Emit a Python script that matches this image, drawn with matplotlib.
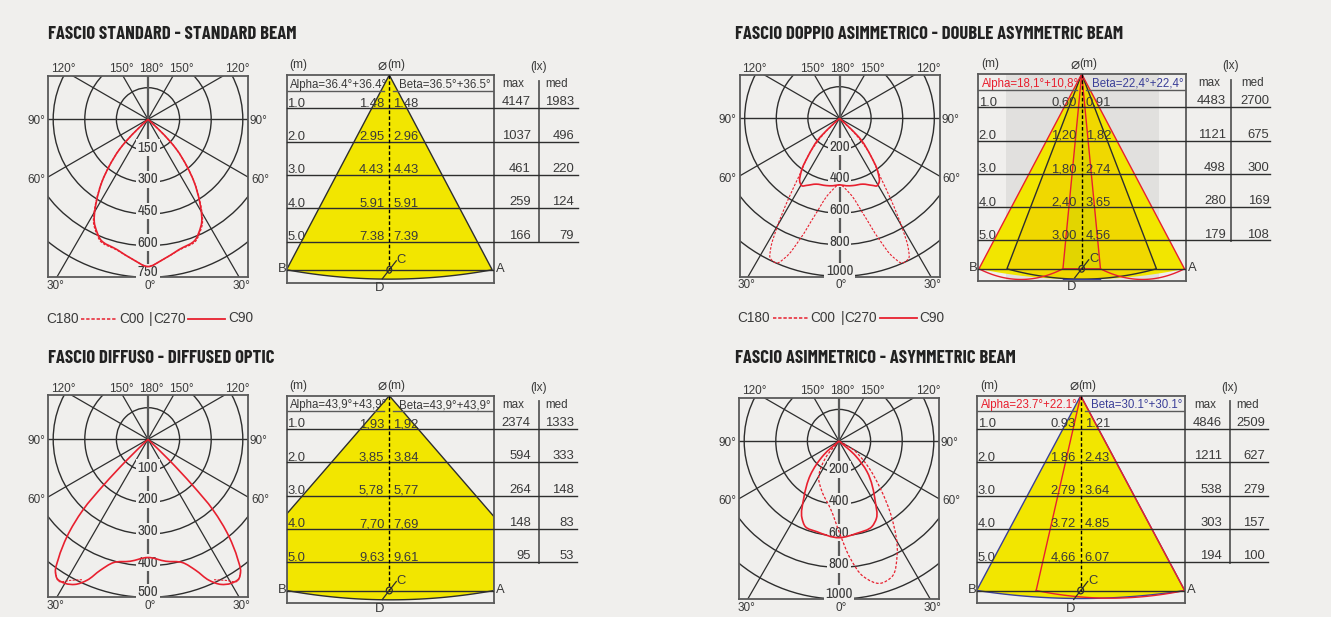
import numpy as np
import matplotlib
matplotlib.use('Agg')
import matplotlib.pyplot as plt
from matplotlib.lines import Line2D
from matplotlib.patches import Circle, PathPatch, Polygon
from matplotlib.path import Path
from matplotlib.transforms import blended_transform_factory

W, H = 1331, 617
BG = '#F0EFED'
TXT = '#3A3A3A'
DARK = '#2E2E2E'
GRAY = '#5A5A5A'
RED = '#E8202F'
BLUE = '#3B3F98'
YELLOW = '#F2E600'
BODY = ['Liberation Sans', 'DejaVu Sans']
NARROW = ['Archivo Narrow', 'Roboto Condensed', 'Liberation Sans', 'DejaVu Sans']
HEAD = ['Barlow Condensed', 'Roboto Condensed', 'Liberation Sans', 'DejaVu Sans']

plt.rcParams['font.family'] = BODY

titles = ['FASCIO STANDARD - STANDARD BEAM', 'FASCIO DOPPIO ASIMMETRICO - DOUBLE ASYMMETRIC BEAM',
          'FASCIO DIFFUSO - DIFFUSED OPTIC', 'FASCIO ASIMMETRICO - ASYMMETRIC BEAM']
depths = [1.0, 2.0, 3.0, 4.0, 5.0]
depth_labels = ['1.0', '2.0', '3.0', '4.0', '5.0']

# polar curves, half curves are mirrored: angle from nadir (deg), intensity (cd)
std_solid_a = [0, 5.8, 13.3, 21.8, 24.1, 27.7, 29.3, 32.1, 36.4, 39.5, 43.5, 45, 46.5]
std_solid_v = [699, 671, 636, 612, 590, 549, 520, 461, 368, 292, 196, 145, 67]
std_dash_a = [0, 5.8, 13.3, 21.8, 24.1, 27.7, 29.3, 32.1, 36.4, 39.5, 43.5, 45, 46.5]
std_dash_v = [699, 671, 638, 618, 596, 556, 527, 466, 370, 292, 196, 145, 67]

dbl_solid_a = [0, 5.6, 11.2, 19.5, 26.3, 29.1, 31.2, 35.7, 39.6, 45, 47]
dbl_solid_v = [421, 429, 434, 442, 474, 489, 480, 415, 314, 194, 97]
dbl_dash_a = [0, 7.6, 13.8, 18.2, 21.4, 23.4, 26.4, 27.7, 29.6, 32.3, 35.2, 40.6, 45]
dbl_dash_v = [421, 478, 618, 809, 950, 998, 987, 939, 811, 610, 438, 291, 149]

dif_solid_a = [0, 8.3, 15.6, 20, 23.4, 26.7, 29.9, 33.2, 34.9, 36.9, 39.8, 42.6, 44.1, 45.5]
dif_solid_v = [374, 390, 405, 441, 486, 514, 526, 526, 512, 472, 400, 305, 202, 93]
dif_dash_a = [25.2, 28.9, 32.3, 34.9]
dif_dash_v = [491, 510, 531, 512]

asy_solid_a = [-47.6, -40.1, -31.6, -25.6, -21.5, -13.6, 0, 11, 21.1, 25.8, 30.9, 42.4, 48]
asy_solid_v = [131, 281, 426, 542, 582, 591, 612, 595, 580, 544, 447, 263, 144]
asy_dash_a = [-38.3, -28.6, -18.5, -7.3, 0.8, 5.5, 10.3, 16.2, 21.3, 27, 34.4, 41.1, 49.4, 58.5]
asy_dash_v = [140, 269, 338, 430, 595, 746, 873, 938, 922, 810, 593, 397, 232, 109]

# table values
std_left = ['1.48', '2.95', '4.43', '5.91', '7.38']
std_right = ['1.48', '2.96', '4.43', '5.91', '7.39']
std_max = [4147, 1037, 461, 259, 166]
std_med = [1983, 496, 220, 124, 79]

dbl_left = ['0,60', '1,20', '1,80', '2,40', '3,00']
dbl_right = ['0,91', '1,82', '2,74', '3,65', '4,56']
dbl_max = [4483, 1121, 498, 280, 179]
dbl_med = [2700, 675, 300, 169, 108]

dif_left = ['1,93', '3,85', '5,78', '7,70', '9,63']
dif_right = ['1,92', '3,84', '5,77', '7,69', '9,61']
dif_max = [2374, 594, 264, 148, 95]
dif_med = [1333, 333, 148, 83, 53]

asy_left = ['0.93', '1.86', '2.79', '3.72', '4,66']
asy_right = ['1.21', '2.43', '3.64', '4.85', '6.07']
asy_max = [4846, 1211, 538, 303, 194]
asy_med = [2509, 627, 279, 157, 100]

fig = plt.figure(figsize=(W / 100, H / 100), dpi=100, facecolor=BG)


def box_axes(left, top, right, bottom, zorder=1):
    ax = fig.add_axes([left / W, 1 - bottom / H, (right - left) / W, (bottom - top) / H], zorder=zorder)
    ax.set_xticks([])
    ax.set_yticks([])
    ax.patch.set_alpha(0)
    for s in ax.spines.values():
        s.set_color(GRAY)
        s.set_linewidth(1.3)
    return ax


def label(x, y, s, size=8.5, ha='center', va='center', color=TXT, **kw):
    fig.text(x / W, 1 - y / H, s, fontsize=size, ha=ha, va=va, color=color, **kw)


def mirror(angles, values):
    a = np.array(angles, float)
    v = np.array(values, float)
    return np.r_[0, -a[::-1], a[1:], 0], np.r_[0, v[::-1], v[1:], 0]


def smooth(xs, ys):
    # chord length catmull-rom through the read points, as bezier segments
    pts = np.column_stack([xs, ys])
    gaps = np.maximum(np.hypot(*np.diff(pts, axis=0).T), 1e-6)
    verts = [pts[0]]
    codes = [Path.MOVETO]
    n = len(pts)
    tang = np.zeros_like(pts)
    for i in range(1, n - 1):
        d0, d1 = gaps[i - 1], gaps[i]
        tang[i] = ((pts[i] - pts[i - 1]) / d0 * d1 + (pts[i + 1] - pts[i]) / d1 * d0) / (d0 + d1)
    tang[0] = (pts[1] - pts[0]) / gaps[0]
    tang[-1] = (pts[-1] - pts[-2]) / gaps[-1]
    for i in range(n - 1):
        verts += [pts[i] + tang[i] * gaps[i] / 3, pts[i + 1] - tang[i + 1] * gaps[i] / 3, pts[i + 1]]
        codes += [Path.CURVE4] * 3
    return Path(verts, codes)


def polar_curve(ax, angles, values, **kw):
    t = np.radians(angles)
    v = np.array(values, float)
    ax.add_patch(PathPatch(smooth(v * np.sin(t), -v * np.cos(t)), fill=False, edgecolor=RED, zorder=5, **kw))


def polar_panel(left, top, cy, step, curves):
    right, bottom = left + 200, top + 201.5
    ring = 31.6
    ax = box_axes(left, top, right, bottom)
    ax.set_xlim(-100 / ring * step, 100 / ring * step)
    ax.set_ylim(-(bottom - cy) / ring * step, (cy - top) / ring * step)
    for n in range(1, 6):
        ax.add_patch(Circle((0, 0), n * step, fill=False, edgecolor=DARK, linewidth=1.0, zorder=2))
    far = 8 * step
    for a in [30, 60, 120, 150, 210, 240, 300, 330]:
        r = np.radians(a)
        ax.plot([0, far * np.sin(r)], [0, -far * np.cos(r)], color=DARK, lw=0.9, zorder=2)
    ax.axvline(0, color=GRAY, lw=1.6, zorder=2)
    ax.axhline(0, color=DARK, lw=1.0, zorder=2)
    for n in range(1, 6):
        off = 0.17 if n == 5 else 0.1
        ax.text(0, -(n - off) * step, str(n * step), ha='center', va='center', fontsize=10.8, color=TXT,
                family=NARROW, zorder=3, bbox=dict(facecolor=BG, edgecolor='none', pad=1.0))
    for c in curves:
        polar_curve(ax, *c[:2], **c[2])
    for x, s in [(15, '120°'), (73, '150°'), (103, '180°'), (133, '150°'), (189, '120°')]:
        label(left + x, top - 6.5, s)
    label(left - 3, cy + 1.5, '90°', ha='right')
    label(right + 2, cy + 1.5, '90°', ha='left')
    label(left - 3, cy + 60.5, '60°', ha='right')
    label(right + 3, cy + 60.5, '60°', ha='left')
    label(left + 7, bottom + 9, '30°')
    label(left + 102, bottom + 9, '0°')
    label(left + 193, bottom + 9, '30°')
    return ax


def legend(left, y):
    size = 9.8
    label(left - 2, y, 'C180', size, ha='left')
    fig.add_artist(Line2D([(left + 33) / W, (left + 69) / W], [1 - y / H] * 2, color=RED, lw=1.1, ls=(0, (2.2, 1.2))))
    label(left + 71, y, 'C00', size, ha='left')
    label(left + 101, y, '|', size, ha='left')
    label(left + 105, y, 'C270', size, ha='left')
    fig.add_artist(Line2D([(left + 140) / W, (left + 177) / W], [1 - y / H] * 2, color=RED, lw=1.3))
    label(left + 180, y - 0.5, 'C90', size, ha='left')


def bow(x0, x1, base, sag):
    t = np.linspace(x0, x1, 40)
    mid, half = (x0 + x1) / 2, (x1 - x0) / 2
    return t, base + sag * (1 - ((t - mid) / half) ** 2)


def beam(ax, half_l, half_r, base, sag, xlim, **kw):
    # cone from the apex down to base, bottom edge bowed, cut at the box sides
    xl, xr = xlim
    hl, hr = min(half_l, -xl), min(half_r, xr)
    t, arc = bow(-hl, hr, base, sag)
    xs = [0]
    ys = [0]
    if half_l > -xl:
        xs.append(xl)
        ys.append(base * (-xl) / half_l)
    xs += list(t)
    ys += list(arc)
    if half_r > xr:
        xs.append(xr)
        ys.append(base * xr / half_r)
    ax.add_patch(Polygon(np.column_stack([xs, ys]), closed=True, **kw))


def cone_panel(left, top, apex, k, tab, title_alpha, title_beta, lefts, rights, maxs, meds, a_col=TXT, b_col=TXT):
    right, bottom = left + 207.5, top + 207.5
    sy = 33.3
    ax = box_axes(left, top, right, bottom, zorder=3)
    xlim = (-(apex - left) / k, (right - apex) / k)
    ax.set_xlim(*xlim)
    ax.set_ylim((bottom - top) / sy, 0)
    tr = blended_transform_factory(fig.transFigure, ax.transData)
    max_x, div_x, med_x, end_x = tab
    for d, lab, a, b, m1, m2 in zip(depths, depth_labels, lefts, rights, maxs, meds):
        ax.plot([left / W, end_x / W], [d, d], color=DARK, lw=1.0, transform=tr, clip_on=False, zorder=4)
        ax.text((left + 0.5) / W, d - 0.05, lab, transform=tr, fontsize=9.4, va='baseline', color=TXT, zorder=6)
        ax.text((apex - 5) / W, d - 0.05, a, transform=tr, fontsize=9.4, va='baseline', ha='right', color=TXT, zorder=6)
        ax.text((apex + 4) / W, d - 0.05, b, transform=tr, fontsize=9.4, va='baseline', ha='left', color=TXT, zorder=6)
        ax.text(max_x / W, d - 0.09, str(m1), transform=tr, fontsize=9.4, va='baseline', ha='right', color=TXT, zorder=6)
        ax.text(med_x / W, d - 0.09, str(m2), transform=tr, fontsize=9.4, va='baseline', ha='right', color=TXT, zorder=6)
    ax.plot([div_x / W] * 2, [0.17, 5.03], color=GRAY, lw=1.3, transform=tr, clip_on=False)
    head = 0.47
    ax.plot([xlim[0], -5 / k], [head, head], color=GRAY, lw=1.0, zorder=4)
    ax.plot([4 / k, xlim[1]], [head, head], color=GRAY, lw=1.0, zorder=4)
    ax.plot([0, 0], [0, 5.85], color='black', lw=1.0, ls=(0, (2.6, 1.6)), zorder=5)
    # circle with slash at the foot of the axis, C and D leaders
    ax.plot([-7 / k, 7 / k], [5.85 + 9 / sy, 5.85 - 9 / sy], color=DARK, lw=0.9, zorder=5)
    ax.add_patch(Circle((0, 5.85), 0.1, fill=False, edgecolor=DARK, lw=0.9, zorder=5))
    base_y = top + 5.85 * sy
    label(left - 5, base_y - 1, 'B', 9.4, ha='center')
    label(right + 6, base_y - 1, 'A', 9.4, ha='center')
    label(apex + 12, base_y - 10, 'C', 9.4)
    label(apex - 10, base_y + 18, 'D', 9.4)
    label(left + 12, top - 10, '(m)', 8.6)
    label(apex - 7, top - 9.5, '⌀', 11)
    label(apex + 7, top - 10, '(m)', 8.6)
    label(div_x, top - 8, '(lx)', 8.6)
    label(max_x - 17, top + 9, 'max', 8.4)
    label(med_x - 17, top + 9, 'med', 8.4)
    label(left + 3.5, top + 9.7, title_alpha, 8.3, ha='left', color=a_col, zorder=10)
    label(apex + 10, top + 9.7, title_beta, 8.3, ha='left', color=b_col, zorder=10)
    return ax, xlim


for (x, y), t in zip([(48, 34), (735, 34), (48, 358), (735, 358)], titles):
    label(x, y + 0.5, t, 13.45, ha='left', va='center', color='#222222', family=HEAD, fontweight='bold')

# standard beam
polar_panel(48, 75.7, 119.3, 150, [
    (*mirror(std_dash_a, std_dash_v), dict(linewidth=0.9, linestyle=(0, (2, 1.2)))),
    (*mirror(std_solid_a, std_solid_v), dict(linewidth=1.2))])
legend(48, 319)
ax, xlim = cone_panel(286.7, 75, 389.3, 23.8, (530.7, 539, 574, 578), 'Alpha=36.4°+36.4°', 'Beta=36.5°+36.5°',
                      std_left, std_right, std_max, std_med)
h = 5.85 / 5
beam(ax, float(std_left[-1]) / 2 * h, float(std_right[-1]) / 2 * h, 5.85, 0.28, xlim,
     facecolor=YELLOW, edgecolor=DARK, lw=1.0, zorder=2)
ax.plot([xlim[0], xlim[1]], [5.85, 5.85], color=DARK, lw=1.0, zorder=4)

# double asymmetric beam
polar_panel(739.5, 75, 118.3, 200, [
    (*mirror(dbl_dash_a, dbl_dash_v), dict(linewidth=0.8, linestyle=(0, (2.2, 1.4)))),
    (*mirror(dbl_solid_a, dbl_solid_v), dict(linewidth=1.2))])
legend(739.5, 318)
ax, xlim = cone_panel(978.3, 74, 1081.7, 28, (1226, 1230.7, 1269.3, 1270), 'Alpha=18,1°+10,8°', 'Beta=22,4°+22,4°',
                      dbl_left, dbl_right, dbl_max, dbl_med, RED, BLUE)
ax.axvspan(-75.7 / 28, 77.6 / 28, ymin=0, ymax=1, facecolor='#E1E0DE', zorder=0.5)
beam(ax, 3.67, 3.67, 5.85, 0.32, xlim, facecolor=YELLOW, edgecolor='none', zorder=1.2)
beam(ax, 2.67, 2.67, 5.85, 0.31, xlim, facecolor='#F0D800', edgecolor=DARK, lw=1.0, zorder=1.4)
ax.add_patch(Polygon([(0, 0), (-0.67, 5.85), (0.67, 5.85)], closed=True, facecolor='#E2D500', edgecolor=RED, lw=1.0, zorder=1.6))
ax.plot([0, -3.67], [0, 5.85], color=RED, lw=1.0, zorder=1.8)
ax.plot([0, 3.67], [0, 5.85], color=RED, lw=1.0, zorder=1.8)
ax.plot(*bow(-3.67, -0.67, 5.85, 0.32), color=RED, lw=1.0, zorder=1.8)
ax.plot(*bow(0.67, 3.67, 5.85, 0.32), color=RED, lw=1.0, zorder=1.8)
ax.plot([-0.67, 0.67], [6.16, 6.16], color=BLUE, lw=1.0, zorder=1.8)
ax.plot([xlim[0], xlim[1]], [5.85, 5.85], color=DARK, lw=1.0, zorder=4)

# diffused optic
polar_panel(48, 395.3, 439.3, 100, [
    (-np.array(dif_dash_a), np.array(dif_dash_v), dict(linewidth=0.8, linestyle=(0, (2, 1.2)))),
    (np.array(dif_dash_a), np.array(dif_dash_v), dict(linewidth=0.8, linestyle=(0, (2, 1.2)))),
    (*mirror(dif_solid_a, dif_solid_v), dict(linewidth=1.2))])
ax, xlim = cone_panel(286.7, 395.7, 389.3, 30, (530.7, 539, 574, 577), 'Alpha=43,9°+43,9°', 'Beta=43,9°+43,9°',
                      dif_left, dif_right, dif_max, dif_med)
beam(ax, 9.63 / 2 * h, 9.61 / 2 * h, 5.85, 0.28, xlim, facecolor=YELLOW, edgecolor=DARK, lw=1.0, zorder=2)
ax.plot([xlim[0], xlim[1]], [5.85, 5.85], color=DARK, lw=1.0, zorder=4)

# asymmetric beam
polar_panel(739, 397.7, 441, 200, [
    (np.r_[0, asy_dash_a, 0], np.r_[0, asy_dash_v, 0], dict(linewidth=0.9, linestyle=(0, (2.2, 1.4)))),
    (np.r_[0, asy_solid_a, 0], np.r_[0, asy_solid_v, 0], dict(linewidth=1.2))])
ax, xlim = cone_panel(977.3, 395.7, 1080.7, 29.3, (1222, 1230, 1265, 1268), 'Alpha=23.7°+22.1°', 'Beta=30.1°+30.1°',
                      asy_left, asy_right, asy_max, asy_med, RED, BLUE)
beam(ax, 3.55, 3.55, 5.85, 0.24, xlim, facecolor=YELLOW, edgecolor=BLUE, lw=1.0, zorder=1.2)
ax.plot([0, 3.55], [0, 5.85], color=RED, lw=1.0, zorder=1.6)
ax.plot([0, -1.52], [0, 5.85], color=RED, lw=1.0, zorder=1.6)
ax.plot(*bow(-1.52, 3.55, 5.85, 0.23), color=RED, lw=1.0, zorder=1.6)
ax.plot([xlim[0], xlim[1]], [5.85, 5.85], color=DARK, lw=1.0, zorder=4)

fig.savefig('out.png', dpi=100, facecolor=BG)
